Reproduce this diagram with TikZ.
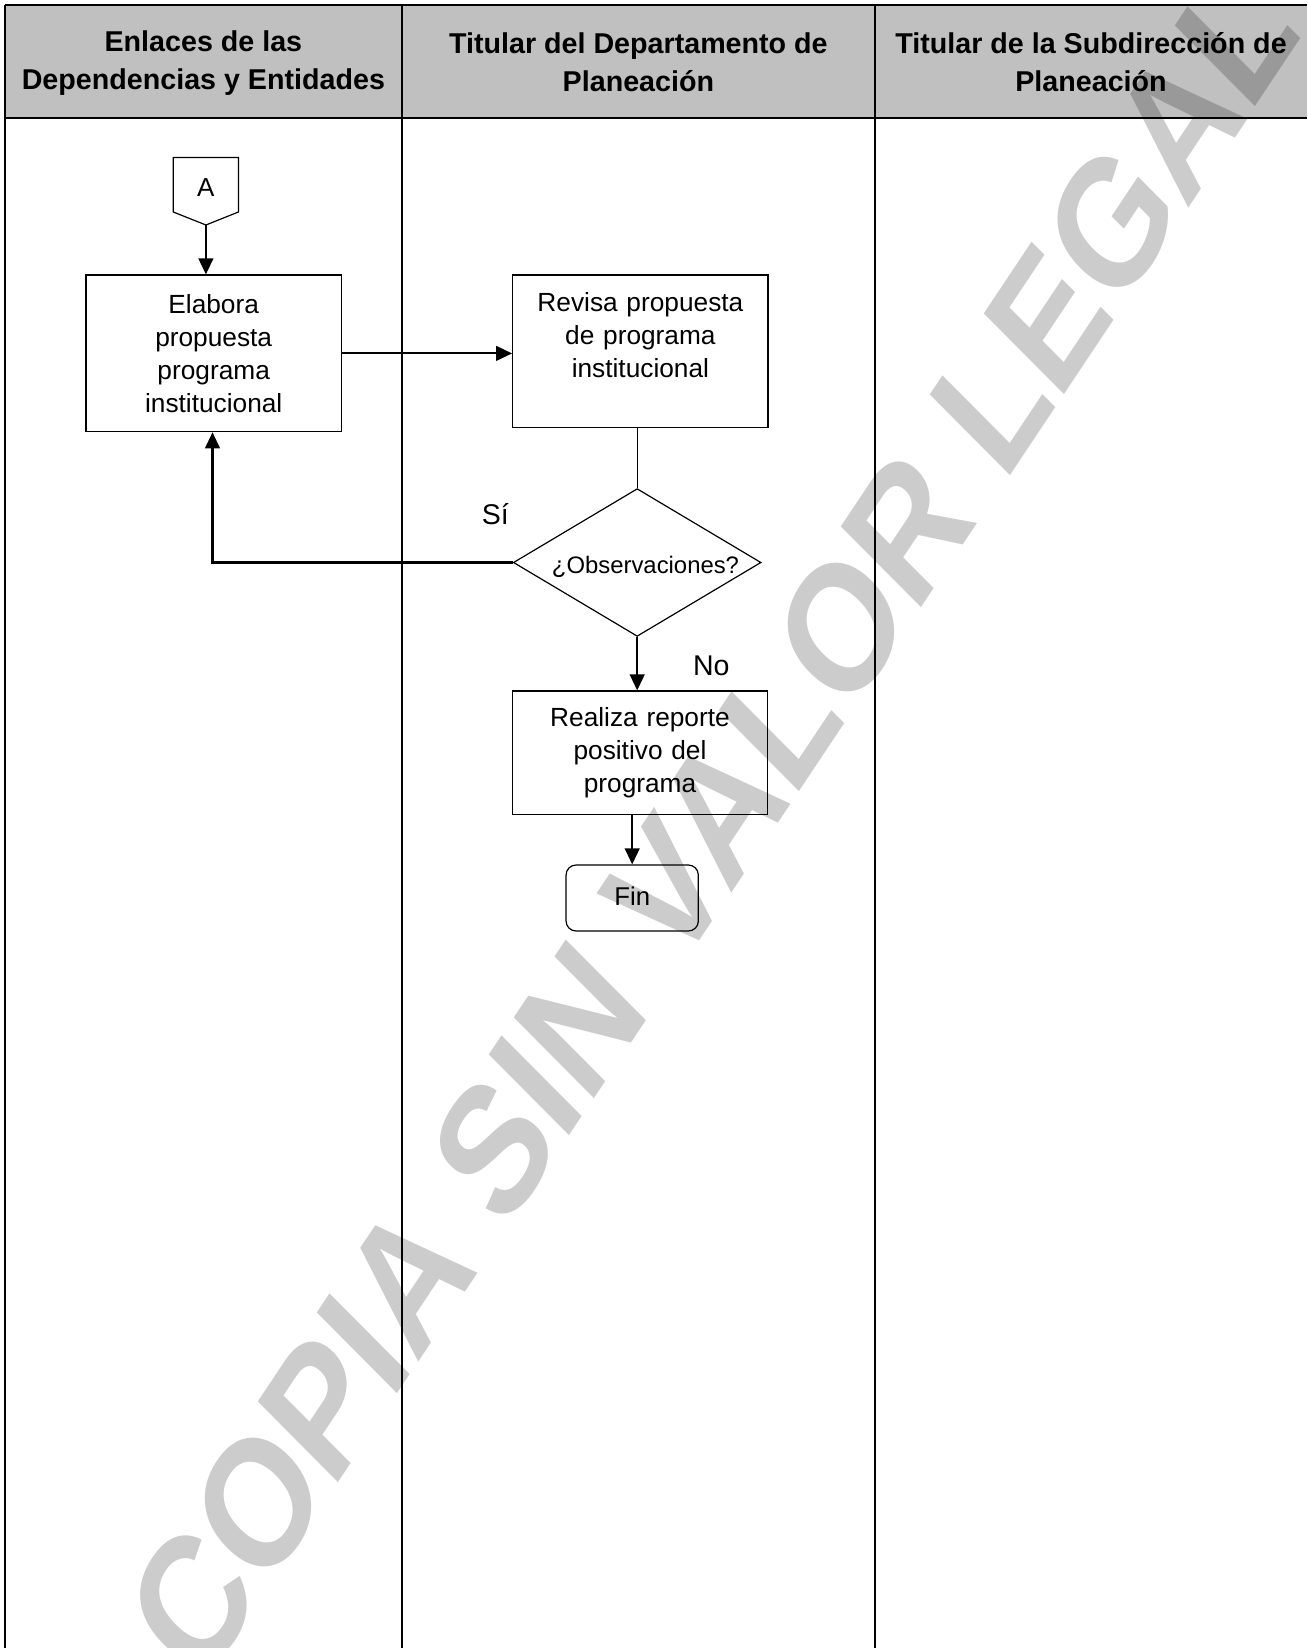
\documentclass[tikz,border=0pt]{standalone}
\usepackage{fontspec}
\setmainfont{Liberation Sans}
\usetikzlibrary{arrows.meta,shapes.geometric,calc}
\definecolor{hdrgray}{HTML}{C0C0C0}
\begin{document}
\begin{tikzpicture}[x=0.75pt,y=-0.75pt,
  tbl/.style={line width=1.5pt},
  hdr/.style={font=\bfseries\fontsize{21.5}{28.35}\selectfont, align=center, inner sep=0pt},
  box/.style={draw, line width=0.9pt, align=center, inner sep=0pt, text width=180pt,
              font=\fontsize{19.7}{24.75}\selectfont},
  arr/.style={-{Triangle[length=12pt,width=11pt]}, line width=1.6pt},
  thin/.style={line width=0.9pt},
  lbl/.style={font=\fontsize{21.4}{24}\selectfont, inner sep=0pt}
]
\useasboundingbox (0,0) rectangle (1307,1648);

% header
\fill[hdrgray] (5,4.7) rectangle (1307,118.3);
\draw[tbl] (5,4.7) -- (1307,4.7);
\draw[tbl] (5,118.3) -- (1307,118.3);
\draw[tbl] (5,4.7) -- (5,1648);
\draw[tbl] (401.7,4.7) -- (401.7,1648);
\draw[tbl] (875,4.7) -- (875,1648);

\node[hdr] (h1) at (203.4,63) {Enlaces de las\\Dependencias y Entidades};
\node[hdr] (h2) at (638.4,62.5) {Titular del Departamento de\\Planeación};
\node[hdr] (h3) at (1091,62.5) {Titular de la Subdirección de\\Planeación};

% off-page connector A
\node[minimum width=48.9pt, minimum height=40.9pt, inner sep=0pt,
      font=\fontsize{19.5}{22}\selectfont] (A) at (205.9,188) {A};
\coordinate (Atip) at (205.9,225);
\draw[thin] (173.3,157.5) -- (238.5,157.5) -- (238.5,212) -- (Atip) -- (173.3,212) -- cycle;

% boxes
\node[box, minimum width=191.5pt, minimum height=117.6pt] (elab) at (213.7,353.4)
  {Elabora\\propuesta\\programa\\institucional};
\coordinate (elabS) at (212.5,432.3);
\node[box, minimum width=191.5pt, minimum height=114.5pt] (rev) at (640.4,351.3)
  {Revisa propuesta\\de programa\\institucional\\\mbox{}};
\node[draw, line width=0.9pt, shape=diamond, inner sep=0pt,
      minimum width=185.8pt, minimum height=110.8pt] (dia) at (637.2,562.5) {};
\node[inner sep=0pt, font=\fontsize{17.9}{20}\selectfont] (diat) at (645.5,567) {¿Observaciones?};
\node[box, minimum width=191.5pt, minimum height=92.5pt] (real) at (640,752.7)
  {Realiza reporte\\positivo del\\programa};
\node[draw, line width=0.9pt, rounded corners=7.5pt, minimum width=99.2pt, minimum height=49.5pt,
      inner sep=0pt, font=\fontsize{19.3}{22}\selectfont] (fin) at (632.2,898) {\raisebox{2pt}{Fin}};

% connectors
\draw[arr] (Atip) -- (Atip |- elab.north);
\draw[arr] (elab.east) -- (elab.east -| rev.west);
\draw[thin] (rev.south -| dia.north) -- (dia.north);
\draw[arr] (dia.west) -- (elabS |- dia.west) -- (elabS);
\draw[arr] (dia.south) -- (dia.south |- real.north);
\draw[arr] (fin.north |- real.south) -- (fin.north);

% labels
\node[lbl] (si) at (495.4,513.7) {Sí};
\node[lbl] (no) at (711.3,666) {No};

% watermark
\begin{scope}
\clip (0,0) rectangle (1307,1648);
\begin{scope}[shift={(712,822)}]
\node[opacity=0.2, text=black, inner sep=0pt, font=\bfseries\fontsize{74}{80}\selectfont,
      cm={0.896,1.344,-1.181,1.189,(0,0)}] (wm) at (0,0) {COPIA SIN VALOR LEGAL};
\end{scope}
\end{scope}
\end{tikzpicture}
\end{document}
